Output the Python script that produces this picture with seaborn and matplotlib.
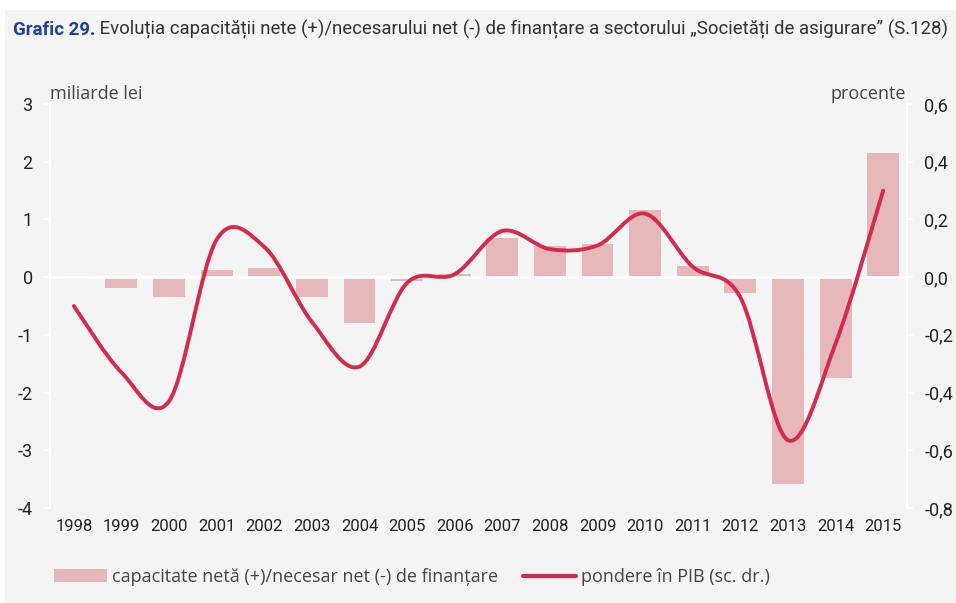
import numpy as np
import pandas as pd
import matplotlib.pyplot as plt
import seaborn as sns
from matplotlib.path import Path
from matplotlib.patches import PathPatch, Patch, Rectangle
from matplotlib.lines import Line2D

# %%
years = [str(y) for y in range(1998, 2016)]
net_capacity = [-0.04, -0.18, -0.35, 0.12, 0.15, -0.35, -0.79, -0.06, 0.05,
                0.67, 0.54, 0.57, 1.17, 0.20, -0.27, -3.58, -1.75, 2.15]
share_gdp = [-0.10, -0.33, -0.43, 0.13, 0.105, -0.155, -0.31, -0.02, 0.01,
             0.16, 0.097, 0.11, 0.22, 0.036, -0.07, -0.565, -0.23, 0.30]

left_ticks = [3, 2, 1, 0, -1, -2, -3, -4]
left_labels = ['3', '2', '1', '0', '-1', '-2', '-3', '-4']
right_ticks = [0.6, 0.4, 0.2, 0.0, -0.2, -0.4, -0.6, -0.8]
right_labels = ['0,6', '0,4', '0,2', '0,0', '-0,2', '-0,4', '-0,6', '-0,8']

bar_color = '#e6b8b9'
line_color = '#d32a4e'
bg = '#f4f4f4'
num_font = ['Roboto', 'DejaVu Sans']

df = pd.DataFrame({'year': years, 'cap': net_capacity, 'pib': share_gdp})

# %%
sns.set_style('white')
plt.rcParams['font.family'] = ['Open Sans', 'DejaVu Sans']

fig = plt.figure(figsize=(9.56, 6.03), dpi=100)
fig.patch.set_facecolor('white')
fig.patches.append(Rectangle((5 / 956, 0), 1, 1 - 10 / 603, transform=fig.transFigure,
                             facecolor=bg, edgecolor='none', zorder=-10))

ax = fig.add_axes([50 / 956, 1 - 508 / 603, (907 - 50) / 956, (508 - 104) / 603])
ax.set_facecolor('none')

sns.barplot(data=df, x='year', y='cap', color=bar_color, saturation=1, width=0.67,
            linewidth=0, ax=ax, zorder=2)
ax.set_xlim(-0.5, 17.5)
ax.set_ylim(-4, 3)
ax.set_xlabel('')
ax.set_ylabel('')

# x axis on the zero line with ticks between bars
ax.spines['bottom'].set_position(('data', 0))
ax.spines['bottom'].set_color('white')
ax.spines['bottom'].set_linewidth(2)
ax.spines['bottom'].set_zorder(3)
ax.set_xticks(np.arange(0.5, 17, 1))
ax.tick_params(axis='x', length=4.5, width=1.5, color='white', labelbottom=False)
ax.spines['top'].set_visible(False)
ax.spines['right'].set_visible(False)
ax.spines['left'].set_color('white')
ax.spines['left'].set_linewidth(1.5)
ax.set_yticks(left_ticks)
ax.set_yticklabels(left_labels, family=num_font, fontsize=13, color='#222222')
ax.tick_params(axis='y', length=4.5, width=1.5, color='white', pad=8)

sec = ax.secondary_xaxis('bottom')
sec.set_xticks(range(len(years)))
sec.set_xticklabels(years, family=num_font, fontsize=12, color='#222222')
sec.tick_params(length=0, pad=8)
sec.spines['bottom'].set_visible(False)

# right axis, smoothed line
ax2 = ax.twinx()
ax2.set_ylim(-0.8, 0.6)
ax2.set_yticks(right_ticks)
ax2.set_yticklabels(right_labels, family=num_font, fontsize=13, color='#222222')
ax2.tick_params(axis='y', length=4.5, width=1.5, color='white', pad=8)
for s in ['top', 'left', 'bottom']:
    ax2.spines[s].set_visible(False)
ax2.spines['right'].set_color('white')
ax2.spines['right'].set_linewidth(1.5)

xs = np.arange(len(share_gdp), dtype=float)
ys = np.array(share_gdp)
verts = [(xs[0], ys[0])]
codes = [Path.MOVETO]
n = len(xs)
for i in range(n - 1):
    p0 = np.array([xs[max(i - 1, 0)], ys[max(i - 1, 0)]])
    p1 = np.array([xs[i], ys[i]])
    p2 = np.array([xs[i + 1], ys[i + 1]])
    p3 = np.array([xs[min(i + 2, n - 1)], ys[min(i + 2, n - 1)]])
    c1 = p1 + (p2 - p0) / 6
    c2 = p2 - (p3 - p1) / 6
    verts += [tuple(c1), tuple(c2), tuple(p2)]
    codes += [Path.CURVE4] * 3
ax2.add_patch(PathPatch(Path(verts, codes), facecolor='none', edgecolor=line_color,
                        lw=2.8, capstyle='round', joinstyle='round', zorder=4))

# axis unit labels
fig.text(50 / 956, 1 - 94 / 603, 'miliarde lei', fontsize=13, color='#444444', va='center', ha='left')
fig.text(906 / 956, 1 - 94 / 603, 'procente', fontsize=13, color='#444444', va='center', ha='right')

# title
t1 = fig.text(13 / 956, 1 - 30 / 603, 'Grafic 29.', fontsize=13.4, fontweight='bold',
              color='#1f3f99', family=num_font, va='center', ha='left')
ax.annotate(' Evoluția capacității nete (+)/necesarului net (-) de finanțare a sectorului '
            '„Societăți de asigurare” (S.128)',
            xy=(1, 0), xycoords=t1, va='bottom', ha='left', fontsize=13.4,
            color='#333333', family=num_font, annotation_clip=False)

handles = [Patch(facecolor=bar_color, edgecolor='none'),
           Line2D([], [], color=line_color, lw=3)]
fig.legend(handles, ['capacitate netă (+)/necesar net (-) de finanțare', 'pondere în PIB (sc. dr.)'],
           loc='center left', bbox_to_anchor=(47 / 956, 1 - 577 / 603), ncol=2, frameon=False,
           fontsize=13, labelcolor='#444444', handlelength=2.9, handletextpad=0.3,
           columnspacing=1.4, borderaxespad=0)

fig.savefig('out.png', dpi=100, facecolor='white')
